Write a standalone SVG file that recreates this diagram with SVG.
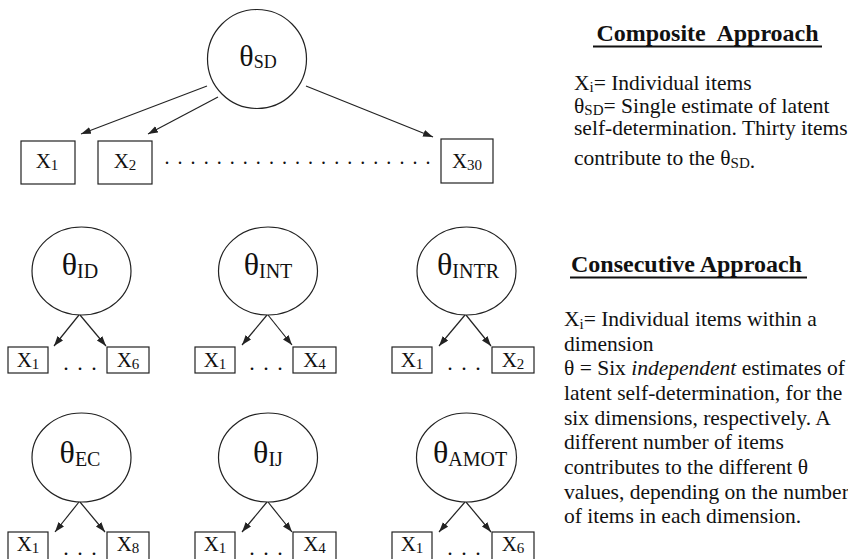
<svg xmlns="http://www.w3.org/2000/svg" width="848" height="559" viewBox="0 0 848 559">
<defs>
<style>
.ln{stroke:#222;stroke-width:1.2;fill:none}
.nd{stroke:#222;stroke-width:1.2;fill:#fff}
.t{font-family:"Liberation Serif","Times New Roman",serif;fill:#111}
.th{font-size:32px}
.thtop{font-size:30px}
.ss{font-size:20px}
.bx{font-size:21px}
.bs{font-size:15px}
.dots{font-size:22px;letter-spacing:8.5px}
.body{font-size:21.5px}
.bsub{font-size:15px}
.title{font-size:24px;font-weight:bold}
</style>
<marker id="ah" markerUnits="userSpaceOnUse" markerWidth="11" markerHeight="8" refX="10" refY="3.5" orient="auto">
<path d="M0,0 L10,3.5 L0,7 z" fill="#222"/>
</marker>
</defs>
<rect width="848" height="559" fill="#fff"/>

<g id="connectors" class="ln" marker-end="url(#ah)">
<line x1="207" y1="86" x2="81" y2="134"/>
<line x1="218" y1="97" x2="148" y2="134"/>
<line x1="306" y1="86" x2="433" y2="137"/>
<line x1="79" y1="315" x2="54" y2="346"/>
<line x1="80" y1="315" x2="106" y2="346"/>
<line x1="267" y1="315" x2="242" y2="345"/>
<line x1="268" y1="315" x2="292" y2="345"/>
<line x1="465" y1="315" x2="439" y2="346"/>
<line x1="466" y1="315" x2="491" y2="346"/>
<line x1="79" y1="502" x2="55" y2="532"/>
<line x1="80" y1="502" x2="105" y2="532"/>
<line x1="267" y1="502" x2="242" y2="532"/>
<line x1="268" y1="502" x2="292" y2="532"/>
<line x1="465" y1="502" x2="439" y2="532"/>
<line x1="466" y1="502" x2="491" y2="532"/>
</g>

<g id="theta-sd">
<circle class="nd" cx="257" cy="59" r="49.5"/>
<text class="t thtop" x="258" y="66" text-anchor="middle">θ<tspan class="ss" style="font-size:18px" dy="2">SD</tspan></text>
</g>
<g id="x1-top">
<rect class="nd" x="21" y="141" width="54" height="43"/>
<text class="t bx" x="47" y="168" text-anchor="middle">X<tspan class="bs" dy="2">1</tspan></text>
</g>
<g id="x2-top">
<rect class="nd" x="98" y="141" width="54" height="43"/>
<text class="t bx" x="125" y="168" text-anchor="middle">X<tspan class="bs" dy="2">2</tspan></text>
</g>
<g id="x30-top">
<rect class="nd" x="441" y="139" width="52" height="44"/>
<text class="t bx" x="467" y="168" text-anchor="middle">X<tspan class="bs" dy="2">30</tspan></text>
</g>
<text class="t" x="164.5" y="163.5" style="font-size:20px;letter-spacing:8.05px">.....................</text>

<!-- Row 1 -->
<g id="theta-id">
<ellipse class="nd" cx="81.5" cy="271" rx="49.5" ry="44"/>
<text class="t th" x="80" y="275" text-anchor="middle">θ<tspan class="ss" dy="3">ID</tspan></text>
</g>
<g id="id-x1"><rect class="nd" x="8" y="347" width="40" height="26"/><text class="t bx" x="28" y="367" text-anchor="middle">X<tspan class="bs" dy="2">1</tspan></text></g>
<g id="id-x6"><rect class="nd" x="107" y="347" width="42" height="26"/><text class="t bx" x="128" y="367" text-anchor="middle">X<tspan class="bs" dy="2">6</tspan></text></g>
<text class="t dots" x="63.25" y="369.5">...</text>

<g id="theta-int">
<ellipse class="nd" cx="268" cy="271" rx="49.5" ry="44"/>
<text class="t th" x="268" y="275" text-anchor="middle">θ<tspan class="ss" dy="3">INT</tspan></text>
</g>
<g id="int-x1"><rect class="nd" x="195" y="347" width="40" height="26"/><text class="t bx" x="215" y="367" text-anchor="middle">X<tspan class="bs" dy="2">1</tspan></text></g>
<g id="int-x4"><rect class="nd" x="293" y="347" width="43" height="26"/><text class="t bx" x="314.5" y="367" text-anchor="middle">X<tspan class="bs" dy="2">4</tspan></text></g>
<text class="t dots" x="249.2" y="369.5">...</text>

<g id="theta-intr">
<ellipse class="nd" cx="466.5" cy="271" rx="49.5" ry="44"/>
<text class="t th" x="468" y="275" text-anchor="middle">θ<tspan class="ss" dy="3">INTR</tspan></text>
</g>
<g id="intr-x1"><rect class="nd" x="392" y="347" width="40" height="26"/><text class="t bx" x="412" y="367" text-anchor="middle">X<tspan class="bs" dy="2">1</tspan></text></g>
<g id="intr-x2"><rect class="nd" x="492" y="347" width="42" height="26"/><text class="t bx" x="513" y="367" text-anchor="middle">X<tspan class="bs" dy="2">2</tspan></text></g>
<text class="t dots" x="447.3" y="369.5">...</text>

<!-- Row 2 -->
<g id="theta-ec">
<ellipse class="nd" cx="81.5" cy="457.5" rx="49.5" ry="44.5"/>
<text class="t th" x="80" y="463" text-anchor="middle">θ<tspan class="ss" dy="3">EC</tspan></text>
</g>
<g id="ec-x1"><rect class="nd" x="8" y="532" width="40" height="30"/><text class="t bx" x="28" y="551" text-anchor="middle">X<tspan class="bs" dy="2">1</tspan></text></g>
<g id="ec-x8"><rect class="nd" x="107" y="532" width="42" height="30"/><text class="t bx" x="128" y="551" text-anchor="middle">X<tspan class="bs" dy="2">8</tspan></text></g>
<text class="t dots" x="63.25" y="554.5">...</text>

<g id="theta-ij">
<ellipse class="nd" cx="268" cy="457.5" rx="49.5" ry="44.5"/>
<text class="t th" x="268" y="463" text-anchor="middle">θ<tspan class="ss" dy="3">IJ</tspan></text>
</g>
<g id="ij-x1"><rect class="nd" x="195" y="532" width="40" height="30"/><text class="t bx" x="215" y="551" text-anchor="middle">X<tspan class="bs" dy="2">1</tspan></text></g>
<g id="ij-x4"><rect class="nd" x="293" y="532" width="43" height="30"/><text class="t bx" x="314.5" y="551" text-anchor="middle">X<tspan class="bs" dy="2">4</tspan></text></g>
<text class="t dots" x="249.2" y="554.5">...</text>

<g id="theta-amot">
<ellipse class="nd" cx="466.5" cy="457.5" rx="50" ry="44.5"/>
<text class="t th" x="470" y="463" text-anchor="middle">θ<tspan class="ss" dy="3">AMOT</tspan></text>
</g>
<g id="amot-x1"><rect class="nd" x="392" y="532" width="40" height="30"/><text class="t bx" x="412" y="551" text-anchor="middle">X<tspan class="bs" dy="2">1</tspan></text></g>
<g id="amot-x6"><rect class="nd" x="492" y="532" width="42" height="30"/><text class="t bx" x="513" y="551" text-anchor="middle">X<tspan class="bs" dy="2">6</tspan></text></g>
<text class="t dots" x="447.3" y="554.5">...</text>

<!-- Legend: composite -->
<g id="legend-composite">
<text class="t title" x="707.5" y="41" text-anchor="middle" xml:space="preserve">Composite  Approach</text>
<line x1="593" y1="46.5" x2="822" y2="46.5" stroke="#111" stroke-width="2"/>
<text class="t body" x="574" y="89.5">X<tspan class="bsub" dy="2.5">i</tspan><tspan dy="-2.5">= Individual items</tspan></text>
<text class="t body" x="574" y="112.5">θ<tspan class="bsub" dy="2.5">SD</tspan><tspan dy="-2.5">= Single estimate of latent</tspan></text>
<text class="t body" x="574" y="134.5">self-determination. Thirty items</text>
<text class="t body" x="574" y="165">contribute to the θ<tspan class="bsub" dy="2.5">SD</tspan>.</text>
</g>

<!-- Legend: consecutive -->
<g id="legend-consecutive">
<text class="t title" x="571" y="272">Consecutive Approach</text>
<line x1="570" y1="277.5" x2="807" y2="277.5" stroke="#111" stroke-width="2"/>
<text class="t body" x="564" y="326">X<tspan class="bsub" dy="2.5">i</tspan><tspan dy="-2.5">= Individual items within a</tspan></text>
<text class="t body" x="564" y="350.7">dimension</text>
<text class="t body" x="564" y="375.3">θ = Six <tspan font-style="italic">independent</tspan> estimates of</text>
<text class="t body" x="564" y="400">latent self-determination, for the</text>
<text class="t body" x="564" y="424.6">six dimensions, respectively. A</text>
<text class="t body" x="564" y="449.3">different number of items</text>
<text class="t body" x="564" y="474">contributes to the different θ</text>
<text class="t body" x="564" y="498.6">values, depending on the number</text>
<text class="t body" x="564" y="523.3">of items in each dimension.</text>
</g>
</svg>
